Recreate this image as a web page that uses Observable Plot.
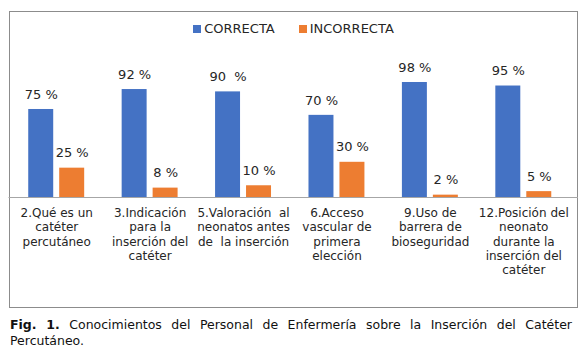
<!DOCTYPE html>
<html>
<head>
<meta charset="utf-8">
<script src="https://cdn.jsdelivr.net/npm/d3@7"></script>
<script src="https://cdn.jsdelivr.net/npm/@observablehq/plot@0.6"></script>
<style>
  body { margin: 0; background: #fff; font-family: "DejaVu Sans", Verdana, sans-serif; }
  #wrap { position: relative; width: 584px; height: 352px; overflow: hidden; }
  #frame { position: absolute; left: 9px; top: 11px; width: 569px; height: 297px; box-sizing: border-box; border: 1px solid #8c8c8c; }
  #chart { position: absolute; left: 0; top: 0; }
  #chart svg text { white-space: pre; }
  #legend { position: absolute; left: 9px; top: 21px; width: 569px; display: flex; justify-content: center; }
  .lg-swatches-wrap, .lg-swatches { display: flex !important; justify-content: center; margin: 0 !important; min-height: 0 !important; }
  .lg-swatch { margin-right: 24px !important; font-size: 13px; color: #262626; }
  .lg-swatch:last-child { margin-right: 0 !important; }
  .lg-swatch > svg { margin-right: 3px !important; }
  #caption { position: absolute; left: 10px; top: 317px; width: 562px; font-size: 12.5px; line-height: 16px; text-align: justify; color: #111; }
</style>
</head>
<body>
<div id="wrap">
  <div id="frame"></div>
  <div id="chart"></div>
  <div id="legend"></div>
  <div id="caption"><b>Fig. 1.</b> Conocimientos del Personal de Enfermería sobre la Inserción del Catéter Percutáneo.</div>
</div>
<script>
const categories = [
  "2.Qué es un\ncatéter\npercutáneo",
  "3.Indicación\npara la\ninserción del\ncatéter",
  "5.Valoración  al\nneonatos antes\nde  la inserción",
  "6.Acceso\nvascular de\nprimera\nelección",
  "9.Uso de\nbarrera de\nbioseguridad",
  "12.Posición del\nneonato\ndurante la\ninserción del\ncatéter"
];
const series = ["CORRECTA", "INCORRECTA"];
const colors = ["#4472C4", "#ED7D31"];
const correcta = [75, 92, 90, 70, 98, 95];
const incorrecta = [25, 8, 10, 30, 2, 5];
const correctaLabels = ["75 %", "92 %", "90  %", "70 %", "98 %", "95 %"];
const incorrectaLabels = ["25 %", "8 %", "10 %", "30 %", "2 %", "5 %"];

const rows = [];
categories.forEach((c, i) => {
  rows.push({cat: c, series: series[0], value: correcta[i], label: correctaLabels[i]});
  rows.push({cat: c, series: series[1], value: incorrecta[i], label: incorrectaLabels[i]});
});

const chart = Plot.plot({
  width: 584,
  height: 310,
  marginLeft: 9.5,
  marginRight: 14,
  marginTop: 79.65,
  marginBottom: 113,
  style: {fontFamily: "DejaVu Sans, Verdana, sans-serif", background: "transparent", overflow: "visible"},
  fx: {domain: categories, padding: 0, axis: null, round: false},
  x: {domain: series, axis: null, paddingInner: 6 / 31, paddingOuter: 0.605, round: false},
  y: {domain: [0, 100], axis: null},
  color: {domain: series, range: colors},
  marks: [
    Plot.barY(rows, {fx: "cat", x: "series", y: "value", fill: "series"}),
    Plot.ruleY([0], {stroke: "#a6a6a6", strokeWidth: 1, insetLeft: -1, insetRight: -8}),
    Plot.text(rows, {fx: "cat", x: "series", y: "value", text: "label", dy: -15, fontSize: 13, fill: "#262626"}),
    Plot.text(categories, {fx: d => d, text: d => d, frameAnchor: "bottom", lineAnchor: "top", dy: 9, lineHeight: 1.2, fontSize: 12, fill: "#262626"})
  ]
});
document.getElementById("chart").appendChild(chart);

const legend = Plot.legend({
  color: {domain: series, range: colors},
  legend: "swatches",
  swatchSize: 8,
  className: "lg",
  style: {fontFamily: "DejaVu Sans, Verdana, sans-serif", fontSize: "13px"}
});
document.getElementById("legend").appendChild(legend);
</script>
</body>
</html>
